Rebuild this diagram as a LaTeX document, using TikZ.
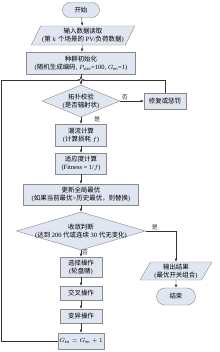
\documentclass[tikz,border=0pt]{standalone}
\usepackage{fontspec}
\setmainfont{Liberation Serif}
\newfontfamily\cjk{Noto Sans CJK SC}
\newcommand{\zh}[1]{{\cjk #1}}
\usetikzlibrary{
  arrows.meta,
  positioning,
  calc,
  shapes.geometric,
  shapes.misc
}
\definecolor{caixa}{HTML}{DFE5F1}
\definecolor{borda}{HTML}{8A8A8A}

\begin{document}
\begin{tikzpicture}[
      x=1bp, y=-1bp,
      every node/.style={font=\fontsize{6.5}{8}\selectfont},
      etapa/.style={draw=borda, fill=caixa, minimum height=14bp, inner sep=1.5bp, align=center},
      term/.style={etapa, rounded rectangle, minimum width=40bp, minimum height=15bp},
      dados/.style={etapa, trapezium, trapezium left angle=62, trapezium right angle=118, trapezium stretches=true},
      decisao/.style={etapa, diamond, inner sep=-1.5bp},
      seta/.style={-{Latex[length=3.2bp,width=2.6bp]}, black!80, line width=0.4bp},
      rotulo/.style={font=\fontsize{6}{7}\selectfont, inner sep=1bp}
  ]
      \useasboundingbox (0,0) rectangle (220,352);

      % 主流程
      \node[term] (ini) at (81,10) {\zh{开始}};
      \node[dados, minimum width=92bp, minimum height=19bp] (ler) at (83,35.5) {\zh{输入数据读取}\\(\zh{第} $k$ \zh{个场景的} PV/\zh{负荷数据})};
      \node[etapa, minimum width=109bp, minimum height=22bp] (pop) at (81,63) {\zh{种群初始化}\\(\zh{随机生成编码}, $P_{\mathrm{size}}$=100, $G_{\mathrm{en}}$=1)};
      \coordinate (junta) at (81,80);
      \node[decisao, aspect=2.4, minimum width=78bp, minimum height=32bp] (topo) at (81,101) {\zh{拓扑校验}\\(\zh{是否辐射状})};
      \node[etapa, minimum width=42bp, minimum height=16bp] (rep) at (165,101) {\zh{修复或惩罚}};
      \node[etapa, minimum width=51bp, minimum height=22bp] (flux) at (81,135) {\zh{潮流计算}\\(\zh{计算损耗} $f$)};
      \node[etapa, minimum width=51bp, minimum height=21bp] (apt) at (81,163.5) {\zh{适应度计算}\\(Fitness = 1/$f$)};
      \node[etapa, minimum width=115bp, minimum height=21bp] (melhor) at (81,194.5) {\zh{更新全局最优}\\(\zh{如果当前最优}>\zh{历史最优，则替换})};
      \node[decisao, aspect=3.4, minimum width=129bp, minimum height=38bp] (conv) at (81,231) {\zh{收敛判断}\\(\zh{达到} 200 \zh{代或连续} 30 \zh{代无变化})};
      \node[etapa, minimum width=42bp, minimum height=20bp] (sel) at (81,267) {\zh{选择操作}\\(\zh{轮盘赌})};
      \node[etapa, minimum width=42bp] (cruz) at (81,293) {\zh{交叉操作}};
      \node[etapa, minimum width=42bp] (mut) at (81,316) {\zh{变异操作}};
      \node[etapa, minimum width=42bp, minimum height=16bp] (ger) at (81,341) {$G_{\mathrm{en}}=G_{\mathrm{en}}+1$};
      \coordinate (volta) at (1.5,80);

      % 输出
      \node[dados, minimum width=72bp, minimum height=18bp] (saida) at (176,271) {\zh{输出结果}\\(\zh{最优开关组合})};
      \node[term, minimum width=42bp, minimum height=17bp] (fim) at (176,296.5) {\zh{结束}};

      % 连线
      \draw[seta] (ini) -- (ler);
      \draw[seta] (ler) -- (pop);
      \draw[seta] (pop) -- (junta);
      \draw[seta] (junta) -- (topo);
      \draw[seta] (topo) -- node[rotulo, above, pos=0.2] {\zh{否}} (rep);
      \draw[seta] (rep.north) |- (junta);
      \draw[seta] (topo) -- node[rotulo, right, xshift=12bp, pos=0.3] {\zh{是}} (flux);
      \draw[seta] (flux) -- (apt);
      \draw[seta] (apt) -- (melhor);
      \draw[seta] (melhor) -- (conv);
      \draw[seta] (conv) -| node[rotulo, above, pos=0.15] {\zh{是}} (saida);
      \draw[seta] (conv) -- node[rotulo, right, pos=0.3] {\zh{否}} (sel);
      \draw[seta] (sel) -- (cruz);
      \draw[seta] (cruz) -- (mut);
      \draw[seta] (mut) -- (ger);
      \draw[seta] (ger.west) -| (volta) -- (junta);
      \draw[seta] (saida) -- (fim);
  \end{tikzpicture}
\end{document}
